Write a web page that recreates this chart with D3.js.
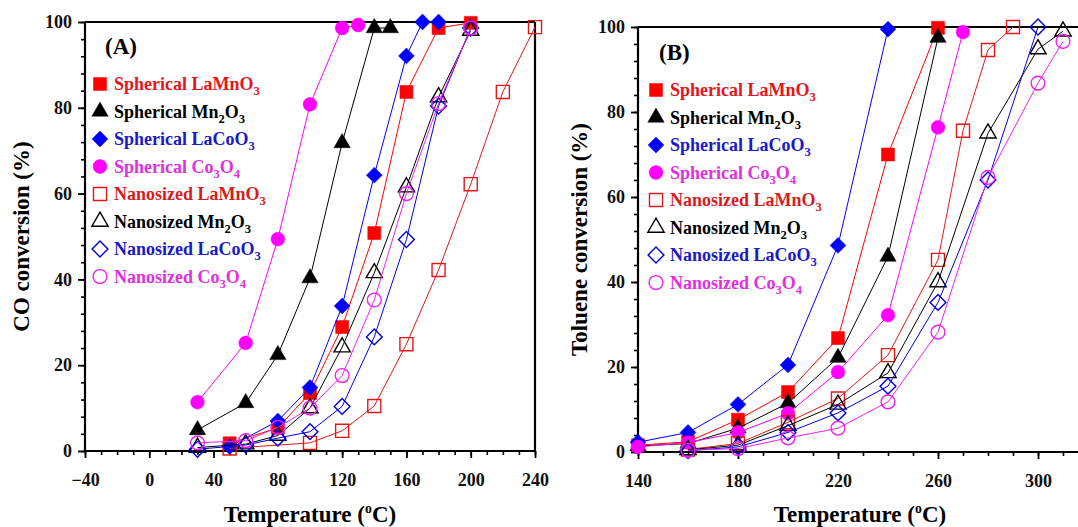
<!DOCTYPE html>
<html>
<head>
<meta charset="utf-8">
<script src="https://cdn.jsdelivr.net/npm/d3@7"></script>
<style>
  body { margin: 0; background: #fff; }
  svg { display: block; font-family: "Liberation Serif", "Times New Roman", serif; font-weight: bold; }
</style>
</head>
<body>
<svg id="chart" width="1078" height="527"></svg>
<script>
// legend labels, "_n" marks a subscript digit
const seriesLabels = [
    "Spherical LaMnO_3", "Spherical Mn_2O_3", "Spherical LaCoO_3", "Spherical Co_3O_4",
    "Nanosized LaMnO_3", "Nanosized Mn_2O_3", "Nanosized LaCoO_3", "Nanosized Co_3O_4"
];

// (A) CO conversion, [temperature, %]
const coSphLaMnO3 = [[50, 1.8], [80, 5.4], [100, 13.5], [120, 28.9], [140, 50.8], [160, 83.7], [180, 98.6], [200, 99.8]];
const coSphMn2O3 = [[30, 4.9], [60, 11.2], [80, 22.4], [100, 40.3], [120, 71.8], [140, 98.6], [150, 98.6]];
const coSphLaCoO3 = [[50, 1.0], [80, 7.0], [100, 14.8], [120, 33.8], [140, 64.3], [160, 92.1], [170, 100], [180, 100]];
const coSphCo3O4 = [[30, 11.4], [60, 25.2], [80, 49.4], [100, 80.8], [120, 98.6], [130, 99.3]];
const coNanoLaMnO3 = [[50, 0.6], [100, 1.9], [120, 4.7], [140, 10.5], [160, 24.9], [180, 42.2], [200, 62.2], [220, 83.7], [240, 98.8]];
const coNanoMn2O3 = [[30, 0.8], [60, 1.6], [80, 3.6], [100, 10.0], [120, 24.2], [140, 41.5], [160, 61.5], [180, 82.5], [200, 98.0]];
const coNanoLaCoO3 = [[30, 0.4], [60, 1.4], [80, 3.0], [100, 4.5], [120, 10.4], [140, 26.6], [160, 49.3], [180, 80.4], [200, 98.6]];
const coNanoCo3O4 = [[30, 1.9], [60, 2.4], [80, 5.5], [100, 10.0], [120, 17.6], [140, 35.2], [160, 60.0], [180, 81.0], [200, 98.6]];

// (B) Toluene conversion, [temperature, %]
const tolSphLaMnO3 = [[140, 1.6], [160, 2.4], [180, 7.6], [200, 14.1], [220, 26.8], [240, 70.0], [260, 99.8]];
const tolSphMn2O3 = [[140, 1.4], [160, 2.0], [180, 5.6], [200, 11.5], [220, 22.2], [240, 46.0], [260, 97.5]];
const tolSphLaCoO3 = [[140, 2.3], [160, 4.6], [180, 11.2], [200, 20.5], [220, 48.6], [240, 99.5]];
const tolSphCo3O4 = [[140, 1.2], [160, 2.2], [180, 4.6], [200, 9.1], [220, 18.8], [240, 32.2], [260, 76.4], [270, 98.8]];
const tolNanoLaMnO3 = [[160, 0.6], [180, 2.0], [200, 7.0], [220, 12.6], [240, 22.8], [260, 45.2], [270, 75.6], [280, 94.6], [290, 100]];
const tolNanoMn2O3 = [[160, 0.5], [180, 1.6], [200, 6.2], [220, 11.2], [240, 18.6], [260, 40.0], [280, 75.0], [300, 94.8], [310, 99.0]];
const tolNanoLaCoO3 = [[160, 0.3], [180, 1.2], [200, 4.6], [220, 9.2], [240, 15.5], [260, 35.2], [280, 64.0], [300, 100]];
const tolNanoCo3O4 = [[160, 0.4], [180, 0.8], [200, 3.3], [220, 5.6], [240, 11.8], [260, 28.2], [280, 64.6], [300, 86.8], [310, 96.6]];

const coTicksX = [-40, 0, 40, 80, 120, 160, 200, 240];
const tolTicksX = [140, 180, 220, 260, 300];
const ticksY = [0, 20, 40, 60, 80, 100];

const colors = ["#ff0000", "#000000", "#0000ff", "#ff00ff", "#e01818", "#000000", "#0000e0", "#f020f0"];
const textColors = ["#e8141c", "#000000", "#1a1ac8", "#e030e0", "#d81c1c", "#000000", "#1a1ac8", "#e030e0"];
const shapes = ["square", "triangle", "diamond", "circle", "square", "triangle", "diamond", "circle"];

const svg = d3.select("#chart");

function symbolPath(shape) {
    if (shape === "square") return d3.symbol(d3.symbolSquare, 170)();
    if (shape === "triangle") return d3.symbol(d3.symbolTriangle, 115)();
    if (shape === "diamond") return d3.symbol(d3.symbolSquare, 125)();
    return d3.symbol(d3.symbolCircle, 150)();
}

function drawMarker(g, shape, i, x, y) {
    const filled = i < 4;
    g.append("path")
        .attr("d", symbolPath(shape))
        .attr("transform", `translate(${x},${y})` + (shape === "diamond" ? " rotate(45)" : ""))
        .attr("fill", filled ? colors[i] : "none")
        .attr("stroke", colors[i])
        .attr("stroke-width", filled ? 0.5 : 1.4);
}

function addRichText(textSel, label) {
    // split on _digit -> subscripts; next piece shifts back up
    const parts = label.split(/_(\d)/);
    let shift = 0;
    parts.forEach((p, k) => {
        if (p === "") return;
        const sub = k % 2 === 1;
        const dy = sub ? 5 - shift : -shift;
        shift = sub ? 5 : 0;
        const ts = textSel.append("tspan").attr("dy", dy).text(p);
        if (sub) ts.attr("font-size", "70%");
    });
}

function drawPanel(opts) {
    const { xDomain, xRange, yRange, xTicks, xMinor, seriesData, tag, tagPos, legendX, legendY, yTitle, yTitleX, xTitleX, rightFrame } = opts;
    const x = d3.scaleLinear().domain(xDomain).range(xRange);
    const y = d3.scaleLinear().domain([0, 100]).range(yRange);
    const g = svg.append("g");

    // minor ticks
    g.append("g")
        .attr("transform", `translate(0,${yRange[0]})`)
        .call(d3.axisBottom(x).tickValues(xMinor).tickSize(4).tickFormat(""))
        .call(a => a.select(".domain").remove())
        .call(a => a.selectAll("text").remove())
        .selectAll("line").attr("stroke-width", 1.6);
    g.append("g")
        .attr("transform", `translate(${xRange[0]},0)`)
        .call(d3.axisLeft(y).tickValues(d3.range(0, 101, 4)).tickSize(4).tickFormat(""))
        .call(a => a.select(".domain").remove())
        .call(a => a.selectAll("text").remove())
        .selectAll("line").attr("stroke-width", 1.6);

    // major axes
    const xAxis = g.append("g")
        .attr("transform", `translate(0,${yRange[0]})`)
        .call(d3.axisBottom(x).tickValues(xTicks).tickSize(7).tickSizeOuter(0).tickPadding(15).tickFormat(d3.format("d")));
    const yAxis = g.append("g")
        .attr("transform", `translate(${xRange[0]},0)`)
        .call(d3.axisLeft(y).tickValues(ticksY).tickSize(7).tickSizeOuter(0).tickPadding(6));
    [xAxis, yAxis].forEach(a => {
        a.select(".domain").attr("stroke-width", 2.2);
        a.selectAll("line").attr("stroke-width", 1.8);
        a.selectAll("text")
            .attr("font-family", "Liberation Serif")
            .attr("font-weight", "bold")
            .attr("font-size", 18)
            .attr("fill", "#111");
    });
    // stretch domains over the frame corners
    xAxis.select(".domain").attr("d", `M${xRange[0]},0H${xRange[1]}`);
    yAxis.select(".domain").attr("d", `M0,${yRange[0]}V${yRange[1]}`);

    // frame
    g.append("line")
        .attr("x1", xRange[0]).attr("x2", xRange[1])
        .attr("y1", yRange[1]).attr("y2", yRange[1])
        .attr("stroke", "#000").attr("stroke-width", 2.2);
    if (rightFrame) {
        g.append("line")
            .attr("x1", xRange[1]).attr("x2", xRange[1])
            .attr("y1", yRange[1]).attr("y2", yRange[0])
            .attr("stroke", "#000").attr("stroke-width", 2.2);
    }

    // series: line then markers
    const line = d3.line().x(d => x(d[0])).y(d => y(d[1]));
    seriesData.forEach((data, i) => {
        g.append("path")
            .datum(data)
            .attr("d", line)
            .attr("fill", "none")
            .attr("stroke", colors[i])
            .attr("stroke-width", 1);
        data.forEach(d => drawMarker(g, shapes[i], i, x(d[0]), y(d[1])));
    });

    // panel tag and legend
    g.append("text")
        .attr("x", tagPos[0]).attr("y", tagPos[1])
        .attr("font-size", 23)
        .text(tag);
    seriesLabels.forEach((label, i) => {
        const ry = legendY + i * 27.5;
        drawMarker(g, shapes[i], i, legendX, ry);
        const t = g.append("text")
            .attr("x", legendX + 14).attr("y", ry + 6)
            .attr("font-size", 18)
            .attr("fill", textColors[i]);
        addRichText(t, label);
    });

    // axis titles
    const xt = g.append("text")
        .attr("x", xTitleX).attr("y", 522)
        .attr("text-anchor", "middle")
        .attr("font-size", 23);
    xt.append("tspan").text("Temperature (");
    xt.append("tspan").attr("font-size", "60%").attr("dy", -9).text("o");
    xt.append("tspan").attr("dy", 9).text("C)");

    g.append("text")
        .attr("transform", `translate(${yTitleX},${(yRange[0] + yRange[1]) / 2}) rotate(-90)`)
        .attr("text-anchor", "middle")
        .attr("font-size", 23)
        .text(yTitle);
}

drawPanel({
    xDomain: [-40, 240], xRange: [85, 535], yRange: [451, 22],
    xTicks: coTicksX, xMinor: d3.range(-40, 241, 10),
    seriesData: [coSphLaMnO3, coSphMn2O3, coSphLaCoO3, coSphCo3O4, coNanoLaMnO3, coNanoMn2O3, coNanoLaCoO3, coNanoCo3O4],
    tag: "(A)", tagPos: [105, 54],
    legendX: 100, legendY: 84,
    yTitle: "CO conversion (%)", yTitleX: 29, xTitleX: 310, rightFrame: true
});

drawPanel({
    xDomain: [140, 316], xRange: [638, 1078], yRange: [452, 27],
    xTicks: tolTicksX, xMinor: d3.range(140, 316, 10),
    seriesData: [tolSphLaMnO3, tolSphMn2O3, tolSphLaCoO3, tolSphCo3O4, tolNanoLaMnO3, tolNanoMn2O3, tolNanoLaCoO3, tolNanoCo3O4],
    tag: "(B)", tagPos: [659, 60],
    legendX: 656, legendY: 90,
    yTitle: "Toluene conversion (%)", yTitleX: 587, xTitleX: 860, rightFrame: false
});
</script>
</body>
</html>
